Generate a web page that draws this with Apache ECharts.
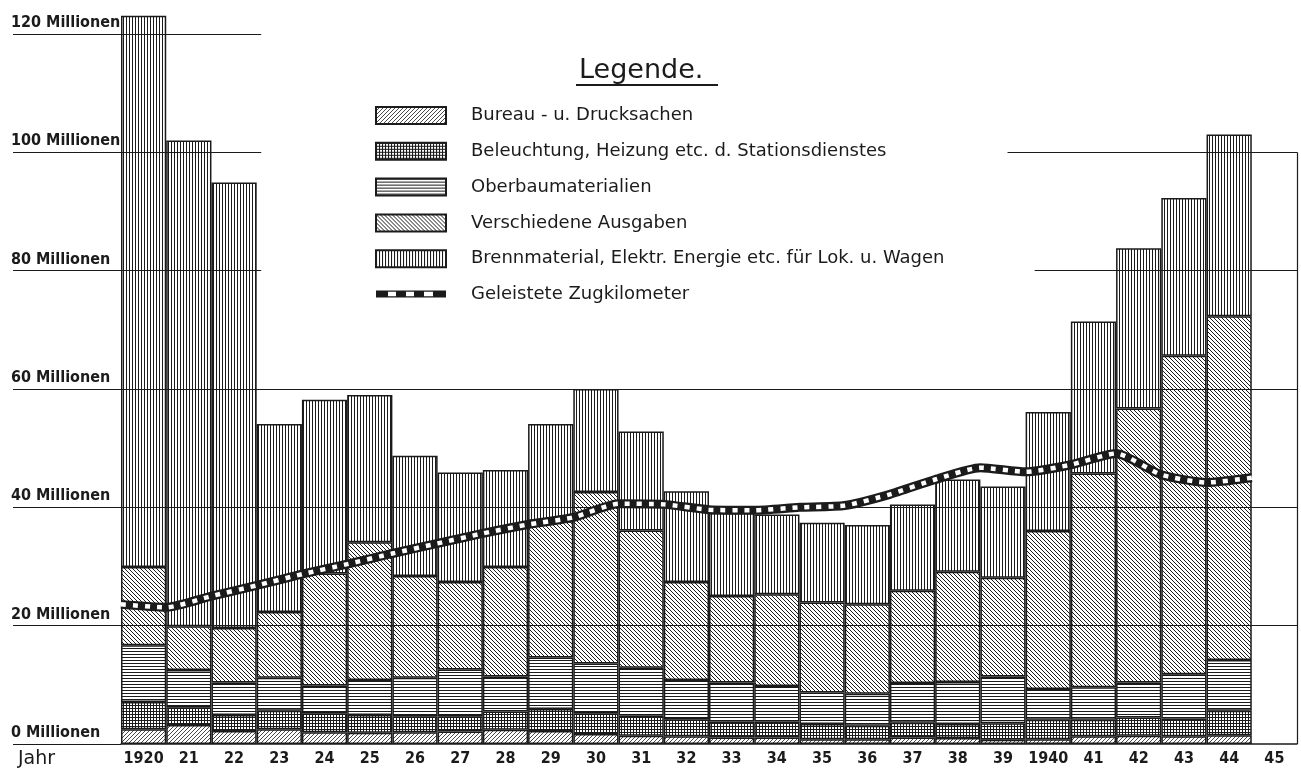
<!DOCTYPE html>
<html>
<head>
<meta charset="utf-8">
<title>Ausgaben und geleistete Zugkilometer 1920-1944</title>
<script src="https://cdn.jsdelivr.net/npm/echarts@6.0.0/dist/echarts.min.js"></script>
<style>
  html, body { margin: 0; padding: 0; background: #fff; }
  #chart { width: 1301px; height: 769px; }
</style>
</head>
<body>
<div id="chart"></div>
<script>
// Jahre (Kategorien) - letzter Platz "45" bleibt leer
const years = ['1920', '21', '22', '23', '24', '25', '26', '27', '28', '29',
  '30', '31', '32', '33', '34', '35', '36', '37', '38', '39',
  '1940', '41', '42', '43', '44', '45'];

// Ausgaben in Millionen, von unten nach oben gestapelt
const bureau = [2.5, 3.2, 2.2, 2.5, 2.0, 1.9, 2.0, 2.1, 2.4, 2.2, 1.7, 1.4, 1.3,
  1.1, 1.1, 0.8, 0.8, 1.1, 1.0, 0.7, 0.8, 1.3, 1.4, 1.3, 1.5];
const beleuchtung = [4.6, 3.0, 2.7, 3.1, 3.2, 3.0, 2.7, 2.6, 3.1, 3.7, 3.5, 3.4, 2.9,
  2.7, 2.7, 2.6, 2.3, 2.5, 2.4, 2.8, 3.3, 2.8, 3.1, 3.0, 4.1];
const oberbau = [9.6, 6.3, 5.5, 5.6, 4.7, 5.9, 6.5, 7.9, 5.9, 8.7, 8.4, 8.1, 6.6,
  6.6, 6.0, 5.3, 5.4, 6.7, 7.1, 7.9, 5.2, 5.5, 5.9, 7.5, 8.6];
const verschiedene = [13.2, 7.4, 9.2, 11.1, 18.9, 23.3, 17.2, 14.8, 18.5, 23.1, 29.0, 23.2, 16.6,
  14.6, 15.5, 15.2, 15.1, 15.6, 18.6, 16.7, 26.7, 36.1, 46.3, 53.8, 58.1];
const brennmaterial = [93.2, 82.1, 75.3, 31.8, 29.4, 24.9, 20.3, 18.5, 16.4, 16.4, 17.4, 16.7, 15.3,
  14.1, 13.5, 13.5, 13.4, 14.6, 15.6, 15.4, 20.1, 25.7, 27.1, 26.7, 30.7];

// Geleistete Zugkilometer (Millionen), an den Jahresgrenzen 1920 ... Ende 1944
const zugkm = [23.6, 23.1, 25.0, 26.8, 28.7, 30.4, 32.2, 33.9, 35.6, 37.1, 38.3, 40.6, 40.5,
  39.6, 39.5, 40.0, 40.3, 42.2, 44.7, 46.7, 46.0, 47.2, 49.1, 45.5, 44.2, 45.0];

// Hilfslinien: [Wert, von, bis] auf der Jahresgrenzen-Achse
const guideLines = [[20, 0, 26], [40, 0, 26], [60, 0, 26], [80, 0, 3.1], [80, 20.2, 26],
  [100, 0, 3.1], [100, 19.6, 26], [120, 0, 3.1]];

const names = [
  'Bureau - u. Drucksachen',
  'Beleuchtung, Heizung etc. d. Stationsdienstes',
  'Oberbaumaterialien',
  'Verschiedene Ausgaben',
  'Brennmaterial, Elektr. Energie etc. für Lok. u. Wagen'
];
const lineName = 'Geleistete Zugkilometer';

const INK = '#1b1b1b';
const narrow = '"Liberation Sans Narrow", "DejaVu Sans Condensed", Roboto, sans-serif';
const plain = '"DejaVu Sans", "Noto Sans", sans-serif';

// Schraffuren als Canvas-Muster
function makePattern(kind) {
  const c = document.createElement('canvas');
  const ctx = c.getContext('2d');
  if (kind === 'slash' || kind === 'back') {
    const n = 4;
    c.width = n; c.height = n;
    ctx.fillStyle = '#fff';
    ctx.fillRect(0, 0, n, n);
    ctx.strokeStyle = INK;
    ctx.lineWidth = kind === 'slash' ? 0.8 : 1;
    ctx.beginPath();
    for (let k = -1; k <= 1; k++) {
      if (kind === 'slash') {
        ctx.moveTo(-1 + k * n, n + 1);
        ctx.lineTo(n + 1 + k * n, -1);
      } else {
        ctx.moveTo(-1 + k * n, -1);
        ctx.lineTo(n + 1 + k * n, n + 1);
      }
    }
    ctx.stroke();
  } else {
    c.width = 3; c.height = 3;
    ctx.fillStyle = '#fff';
    ctx.fillRect(0, 0, 3, 3);
    ctx.fillStyle = INK;
    if (kind === 'vert' || kind === 'grid') ctx.fillRect(0, 0, 1, 3);
    if (kind === 'horiz' || kind === 'grid') ctx.fillRect(0, 0, 3, 1);
  }
  return { image: c, repeat: 'repeat' };
}

function barSeries(name, data, kind) {
  return {
    name: name,
    type: 'bar',
    stack: 'ausgaben',
    data: data,
    barWidth: '100%',
    barCategoryGap: '0%',
    clip: false,
    z: 2,
    itemStyle: { color: makePattern(kind), borderColor: INK, borderWidth: 1.5 },
    emphasis: { disabled: true }
  };
}

const chart = echarts.init(document.getElementById('chart'), null, { renderer: 'canvas' });

const option = {
  animation: false,
  backgroundColor: '#fff',
  title: {
    text: 'Legende.',
    left: 574,
    top: 52,
    textStyle: { fontFamily: plain, fontWeight: 'normal', fontSize: 27, color: INK }
  },
  graphic: [{
    type: 'line',
    shape: { x1: 576, y1: 85, x2: 718, y2: 85 },
    style: { stroke: INK, lineWidth: 2 }
  }],
  legend: {
    orient: 'vertical',
    left: 370,
    top: 101,
    icon: 'rect',
    itemWidth: 70,
    itemHeight: 17,
    itemGap: 16.8,
    selectedMode: false,
    textStyle: { fontFamily: plain, fontSize: 18, color: INK, lineHeight: 17, padding: [0, 0, 0, 20] },
    data: names.concat([{
      name: lineName,
      icon: 'path://M0,0H70V7H0Z M12,1.2V5.8H20V1.2Z M30,1.2V5.8H38V1.2Z M48,1.2V5.8H57V1.2Z',
      itemStyle: { color: INK, borderWidth: 0 }
    }])
  },
  grid: { left: 121, right: 4, top: 34, bottom: 24.5 },
  xAxis: [{
    type: 'category',
    data: years,
    boundaryGap: true,
    axisLine: { lineStyle: { color: INK, width: 1.5 } },
    axisTick: { show: false },
    axisLabel: { interval: 0, color: INK, fontFamily: narrow, fontWeight: 'bold', fontSize: 16, margin: 7 },
    name: 'Jahr',
    nameLocation: 'start',
    nameGap: 66,
    nameTextStyle: { color: INK, fontFamily: plain, fontSize: 19, verticalAlign: 'top', padding: [6, 0, 0, 0] }
  }, {
    type: 'value',
    min: 0,
    max: 26,
    show: false
  }],
  yAxis: {
    type: 'value',
    min: 0,
    max: 120,
    interval: 20,
    axisLine: { show: false },
    splitLine: { show: false },
    axisTick: { show: true, length: 108, lineStyle: { color: INK, width: 1.2 } },
    axisLabel: {
      formatter: v => v + ' Millionen',
      align: 'left',
      verticalAlign: 'bottom',
      margin: 110,
      padding: [0, 0, 3, 0],
      color: INK,
      fontFamily: narrow,
      fontWeight: 'bold',
      fontSize: 16
    }
  },
  series: [
    barSeries(names[0], bureau, 'slash'),
    barSeries(names[1], beleuchtung, 'grid'),
    barSeries(names[2], oberbau, 'horiz'),
    barSeries(names[3], verschiedene, 'back'),
    barSeries(names[4], brennmaterial, 'vert'),
    {
      // Hilfslinien und rechter Rand
      name: 'raster',
      type: 'line',
      xAxisIndex: 1,
      data: [],
      z: 3,
      markLine: {
        silent: true,
        symbol: 'none',
        label: { show: false },
        lineStyle: { color: INK, width: 1.2, type: 'solid' },
        data: guideLines.map(g => [{ coord: [g[1], g[0]] }, { coord: [g[2], g[0]] }])
          .concat([[{ coord: [26, 0] }, { coord: [26, 100] }]])
      }
    },
    {
      name: lineName,
      type: 'line',
      xAxisIndex: 1,
      data: zugkm.map((v, i) => [i, v]),
      smooth: 0.2,
      symbol: 'none',
      z: 5,
      itemStyle: { color: INK },
      lineStyle: { color: INK, width: 9, cap: 'butt' },
      emphasis: { disabled: true }
    },
    {
      name: 'zugkm-weiss',
      type: 'line',
      xAxisIndex: 1,
      data: zugkm.map((v, i) => [i, v]),
      smooth: 0.2,
      symbol: 'none',
      z: 6,
      lineStyle: { color: '#fff', width: 4.5, type: [5, 7], cap: 'butt' },
      emphasis: { disabled: true }
    }
  ]
};

chart.setOption(option);
</script>
</body>
</html>
